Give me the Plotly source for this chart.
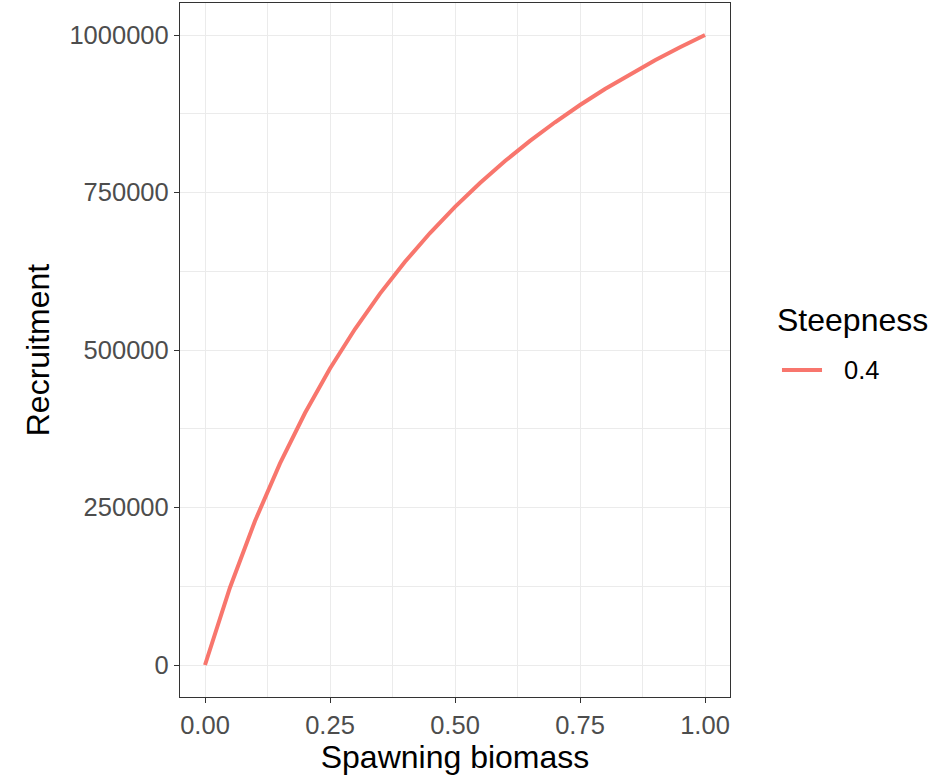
import plotly.graph_objects as go

spawning_biomass = [0.0, 0.025, 0.05, 0.1, 0.15, 0.2, 0.25, 0.3, 0.35, 0.4, 0.45, 0.5,
                    0.55, 0.6, 0.65, 0.7, 0.75, 0.8, 0.85, 0.9, 0.95, 1.0]
recruitment = [0, 64000, 123000, 228600, 320000, 400000, 470600, 533300, 589500, 640000,
               685700, 727300, 765200, 800000, 832000, 861500, 888900, 914300, 937900,
               960000, 980600, 1000000]
steepness_label = "0.4"
legend_title = "Steepness"

x_ticks = [0.0, 0.25, 0.5, 0.75, 1.0]
x_tick_text = ["0.00", "0.25", "0.50", "0.75", "1.00"]
y_ticks = [0, 250000, 500000, 750000, 1000000]
y_tick_text = ["0", "250000", "500000", "750000", "1000000"]

FONT = "Liberation Sans, Arial, sans-serif"
TICK_SIZE = 25.5
TITLE_SIZE = 32
LINE_COLOR = "#F8766D"

fig = go.Figure()
fig.add_trace(go.Scatter(
    x=spawning_biomass, y=recruitment, mode="lines", name=steepness_label,
    line=dict(color=LINE_COLOR, width=4), showlegend=False,
))

axis_common = dict(
    showgrid=True, gridcolor="#ebebeb", gridwidth=1.4,
    showline=True, linecolor="#333333", linewidth=1.4, mirror=True,
    ticks="outside", ticklen=5, tickcolor="#333333", tickwidth=1.4,
    tickfont=dict(family=FONT, size=TICK_SIZE, color="#4d4d4d"),
    zeroline=False,
)

fig.update_layout(
    width=940, height=776,
    margin=dict(l=180, r=210, t=3, b=79),
    paper_bgcolor="white", plot_bgcolor="white",
    font=dict(family=FONT),
    showlegend=False,
    xaxis=dict(
        range=[-0.05, 1.05], tickvals=x_ticks, ticktext=x_tick_text,
        title=dict(text="Spawning biomass", font=dict(family=FONT, size=TITLE_SIZE, color="black"), standoff=4),
        minor=dict(tickvals=[0.125, 0.375, 0.625, 0.875], showgrid=True, gridcolor="#ebebeb", gridwidth=0.8, ticks=""),
        **axis_common,
    ),
    yaxis=dict(
        range=[-50800, 1050800], tickvals=y_ticks, ticktext=y_tick_text,
        title=dict(text="Recruitment", font=dict(family=FONT, size=TITLE_SIZE, color="black"), standoff=10),
        minor=dict(tickvals=[125000, 375000, 625000, 875000], showgrid=True, gridcolor="#ebebeb", gridwidth=0.8, ticks=""),
        **axis_common,
    ),
)

# Legend drawn by hand (ggplot-style spacing)
fig.add_annotation(xref="paper", yref="paper", x=1.0818, y=0.543, xanchor="left", yanchor="middle",
                   text=legend_title, showarrow=False,
                   font=dict(family=FONT, size=TITLE_SIZE, color="black"))
fig.add_shape(type="line", xref="paper", yref="paper", x0=1.0945, x1=1.1673, y0=0.4712, y1=0.4712,
              line=dict(color=LINE_COLOR, width=4))
fig.add_annotation(xref="paper", yref="paper", x=1.2035, y=0.4712, xanchor="left", yanchor="middle",
                   text=steepness_label, showarrow=False,
                   font=dict(family=FONT, size=TICK_SIZE, color="black"))

fig.write_html("out.html")
